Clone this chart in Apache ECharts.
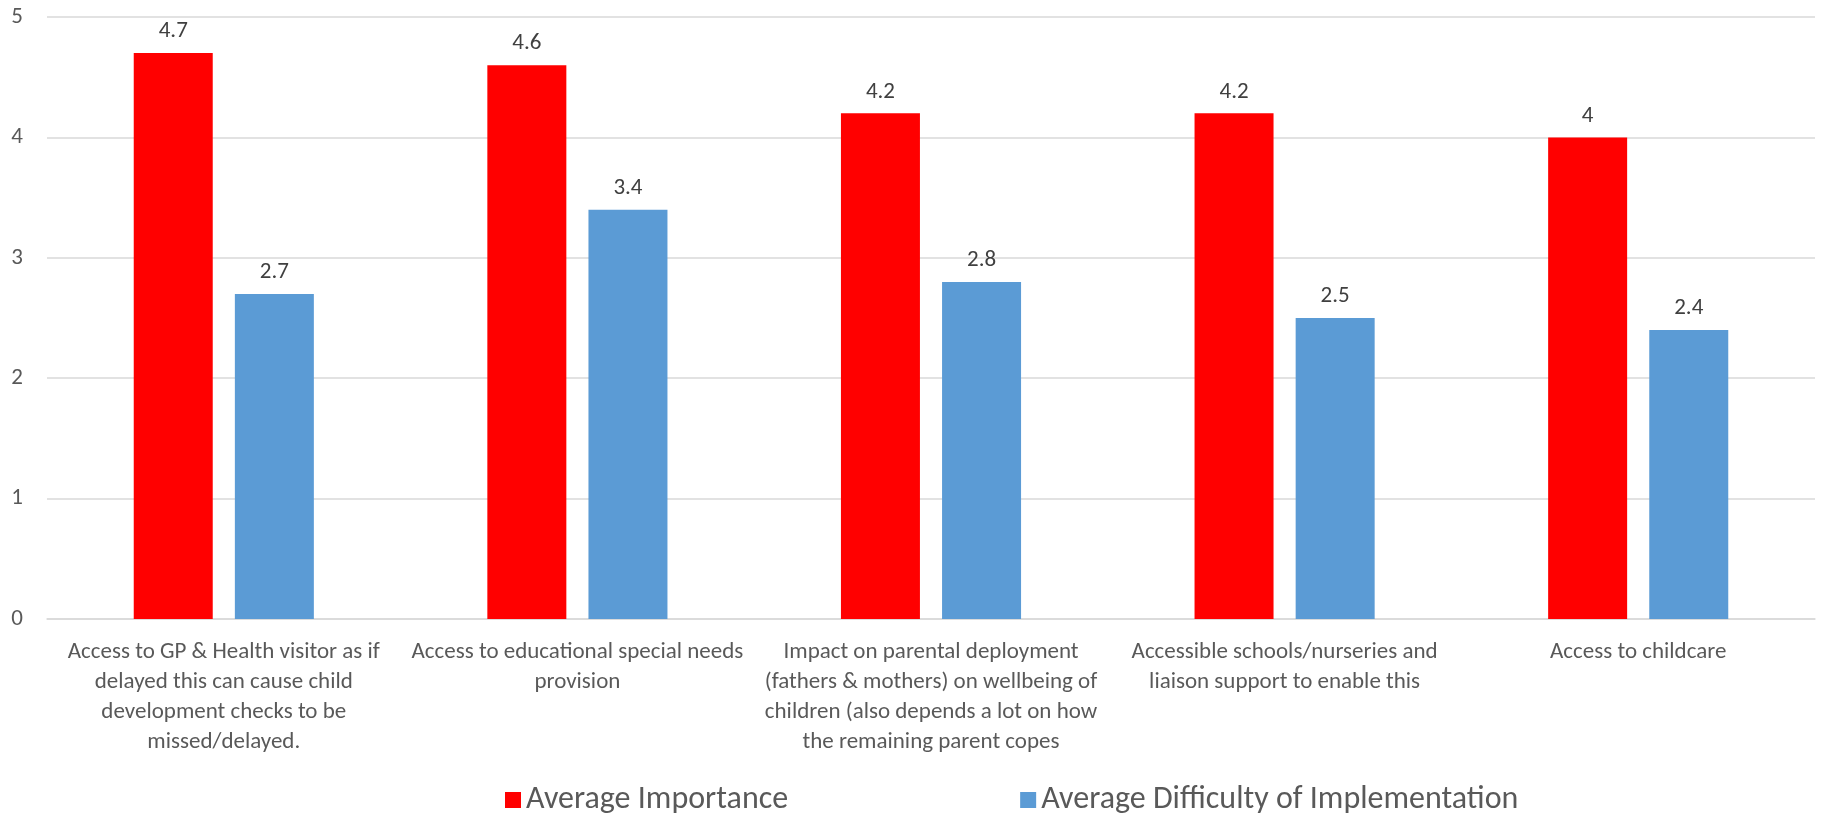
<!DOCTYPE html>
<html>
<head>
<meta charset="utf-8">
<script src="https://cdn.jsdelivr.net/npm/echarts@6/dist/echarts.min.js"></script>
<style>
    html, body {margin:0;padding:0;background:#fff}
    #main {width:1824px;height:821px}
</style>
</head>
<body>
<div id="main"></div>
<script>
    // categories (line breaks as in the picture)
    var categories = [
        'Access to GP & Health visitor as if\ndelayed this can cause child\ndevelopment checks to be\nmissed/delayed.',
        'Access to educational special needs\nprovision',
        'Impact on parental deployment\n(fathers & mothers) on wellbeing of\nchildren (also depends a lot on how\nthe remaining parent copes',
        'Accessible schools/nurseries and\nliaison support to enable this',
        'Access to childcare'
    ];
    var importance = [4.7, 4.6, 4.2, 4.2, 4];
    var difficulty = [2.7, 3.4, 2.8, 2.5, 2.4];
    var yTicks = [0, 1, 2, 3, 4, 5];

    var font = "Carlito, 'Liberation Sans Narrow', 'Open Sans', sans-serif";
    var chart = echarts.init(document.getElementById('main'));

    var option = {
        animation: false,
        textStyle: {fontFamily: font},
        grid: {left: 47, right: 9, top: 17, bottom: 202, containLabel: false},
        legend: {
            bottom: 0,
            left: 500,
            itemWidth: 16,
            itemHeight: 16,
            itemGap: 232,
            icon: 'rect',
            textStyle: {fontSize: 32, color: '#595959', fontFamily: font},
            data: ['Average Importance', 'Average Difficulty of Implementation']
        },
        xAxis: {
            type: 'category',
            data: categories,
            axisLine: {lineStyle: {color: '#D9D9D9', width: 1.5}},
            axisTick: {show: false},
            axisLabel: {
                interval: 0,
                color: '#595959',
                fontSize: 23,
                lineHeight: 30,
                margin: 18,
                fontFamily: font
            }
        },
        yAxis: {
            type: 'value',
            min: yTicks[0],
            max: yTicks[yTicks.length - 1],
            interval: 1,
            axisLine: {show: false},
            axisTick: {show: false},
            splitLine: {lineStyle: {color: '#D9D9D9', width: 1.5}},
            axisLabel: {color: '#595959', fontSize: 23, margin: 24, fontFamily: font}
        },
        series: [
            {
                name: 'Average Importance',
                type: 'bar',
                data: importance,
                barWidth: 79,
                barGap: '28%',
                itemStyle: {color: '#FF0000'},
                label: {show: true, position: 'top', distance: 10, color: '#404040', fontSize: 23, fontFamily: font}
            },
            {
                name: 'Average Difficulty of Implementation',
                type: 'bar',
                data: difficulty,
                barWidth: 79,
                itemStyle: {color: '#5B9BD5'},
                label: {show: true, position: 'top', distance: 10, color: '#404040', fontSize: 23, fontFamily: font}
            }
        ]
    };
    chart.setOption(option);
</script>
</body>
</html>
